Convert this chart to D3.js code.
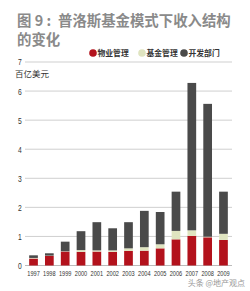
<!DOCTYPE html>
<html><head><meta charset="utf-8">
<script src="https://cdn.jsdelivr.net/npm/d3@7"></script>
<style>body{margin:0;background:#fff;}svg{display:block;}</style>
</head><body>
<script>
const years = ["1997","1998","1999","2000","2001","2002","2003","2004","2005","2006","2007","2008","2009"];
const property = [0.24,0.33,0.48,0.47,0.48,0.47,0.50,0.51,0.59,0.90,1.02,0.97,0.88];
const fund = [0.02,0.01,0.01,0.06,0.04,0.05,0.09,0.12,0.14,0.29,0.19,0.02,0.21];
const dev = [0.09,0.08,0.33,0.65,0.97,0.76,0.90,1.25,1.11,1.35,5.07,4.57,1.45];
const yTicks = [0,1,2,3,4,5,6,7];
const seriesNames = ["物业管理","基金管理","开发部门"];
const colors = ["#b3121c","#dfe4c0","#4a4a4a"];

const W=250,H=291;
const svg=d3.select("body").append("svg").attr("width",W).attr("height",H);
const font="'Noto Sans CJK SC', sans-serif";
const narrow="'Liberation Sans', sans-serif";

svg.append("text").attr("x",17).attr("y",26).attr("font-family",font).attr("font-weight","bold")
  .attr("font-size",14.4).attr("fill","#8a8a8a").text("图 9 :");
svg.append("text").attr("x",58).attr("y",26).attr("font-family",font).attr("font-weight","bold")
  .attr("font-size",14.4).attr("fill","#8a8a8a").text("普洛斯基金模式下收入结构");
svg.append("text").attr("x",17).attr("y",45).attr("font-family",font).attr("font-weight","bold")
  .attr("font-size",14.4).attr("fill","#8a8a8a").text("的变化");

const y=d3.scaleLinear().domain([0,7]).range([265.5,62]);
const x=d3.scaleBand().domain(years).range([26,231]).paddingInner(0.45).paddingOuter(0.2);

// grid
const g=svg.append("g");
g.selectAll("line.grid").data(yTicks).enter().append("line")
  .attr("x1",25).attr("x2",232).attr("y1",d=>y(d)).attr("y2",d=>y(d))
  .attr("stroke",d=>d===0?"#bbb":"#cfcfcf").attr("stroke-width",1);
g.selectAll("text.yt").data(yTicks).enter().append("text")
  .attr("x",20).attr("y",d=>y(d)+3.5).attr("text-anchor","middle")
  .attr("font-family",narrow).attr("font-size",9).attr("fill","#333")
  .attr("transform",`translate(20,0) scale(0.75,1) translate(-20,0)`).text(d=>d);

svg.append("text").attr("x",15).attr("y",77).attr("font-family",font).attr("font-size",8.5)
  .attr("fill","#333").text("百亿美元");

// stacked bars
const rows=years.map((yr,i)=>({year:yr,p:property[i],f:fund[i],d:dev[i]}));
const stack=d3.stack().keys(["p","f","d"])(rows);
stack.forEach((s,k)=>{
  svg.append("g").selectAll("rect").data(s).enter().append("rect")
    .attr("x",d=>x(d.data.year)).attr("width",x.bandwidth())
    .attr("y",d=>y(d[1])).attr("height",d=>y(d[0])-y(d[1]))
    .attr("fill",colors[k]);
});

// x labels
svg.append("g").selectAll("text").data(years).enter().append("text")
  .attr("x",d=>x(d)+x.bandwidth()/2).attr("y",276).attr("text-anchor","middle")
  .attr("font-family",narrow).attr("font-size",7.6)
  .attr("textLength",12.5).attr("lengthAdjust","spacingAndGlyphs")
  .attr("fill","#333").text(d=>d);

// legend
const legX=[93,142,184];
seriesNames.forEach((n,i)=>{
  svg.append("circle").attr("cx",legX[i]).attr("cy",53).attr("r",3.8).attr("fill",colors[i]);
  svg.append("text").attr("x",legX[i]+4.5).attr("y",56).attr("font-family",font).attr("font-size",7.8)
    .attr("font-weight","bold").attr("fill","#333").text(n);
});

svg.append("text").attr("x",245).attr("y",286).attr("text-anchor","end").attr("font-family",font)
  .attr("font-size",8).attr("fill","#999").text("头条 @地产观点");
</script>
</body></html>
